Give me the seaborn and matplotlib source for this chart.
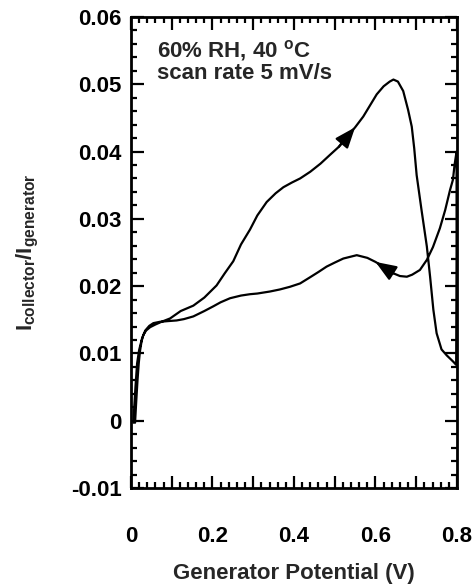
import numpy as np
import pandas as pd
import seaborn as sns
import matplotlib
matplotlib.use("Agg")
import matplotlib.pyplot as plt
from matplotlib.ticker import MultipleLocator, FixedLocator, FixedFormatter

# ---------------- data ----------------
fwd_V = [0.010, 0.013, 0.016, 0.019, 0.022, 0.026, 0.030, 0.037, 0.047, 0.060,
         0.075, 0.096, 0.122, 0.153, 0.180, 0.210, 0.230, 0.251, 0.270, 0.292,
         0.310, 0.333, 0.355, 0.374, 0.395, 0.415, 0.440, 0.465, 0.490, 0.510,
         0.530, 0.550, 0.570, 0.590, 0.603, 0.620, 0.635, 0.644, 0.655, 0.668,
         0.680, 0.689, 0.695, 0.701, 0.713, 0.726, 0.734, 0.742, 0.750, 0.762,
         0.775, 0.787, 0.792, 0.798]
fwd_R = [-0.0003, 0.0030, 0.0060, 0.0085, 0.0103, 0.0118, 0.0127, 0.0134, 0.0139, 0.0143,
         0.0147, 0.0152, 0.0163, 0.0171, 0.0183, 0.0201, 0.0219, 0.0237, 0.0262, 0.0284,
         0.0305, 0.0325, 0.0338, 0.0347, 0.0354, 0.0360, 0.0370, 0.0382, 0.0396, 0.0407,
         0.0422, 0.0436, 0.0452, 0.0472, 0.0485, 0.0497, 0.0504, 0.0507, 0.0504, 0.0490,
         0.0462, 0.0437, 0.0405, 0.0365, 0.0313, 0.0259, 0.0214, 0.0165, 0.0130, 0.0106,
         0.0097, 0.0090, 0.0087, 0.0083]

rev_V = [0.798, 0.799, 0.799, 0.794, 0.790, 0.783, 0.771, 0.758, 0.741, 0.726,
         0.709, 0.690, 0.677, 0.660, 0.644, 0.619, 0.600, 0.580, 0.554,
         0.521, 0.500, 0.480, 0.460, 0.439, 0.415, 0.390, 0.365, 0.341, 0.310,
         0.292, 0.270, 0.243, 0.220, 0.202, 0.180, 0.153, 0.130, 0.112, 0.090,
         0.071, 0.055, 0.045, 0.035, 0.027, 0.020, 0.015, 0.011, 0.008, 0.006]
rev_R = [0.0083, 0.0250, 0.0400, 0.0380, 0.0358, 0.0343, 0.0313, 0.0286, 0.0258, 0.0239,
         0.0224, 0.0217, 0.0214, 0.0215, 0.0219, 0.0229, 0.0236, 0.0242, 0.0246,
         0.0241, 0.0235, 0.0229, 0.0221, 0.0213, 0.0204, 0.0199, 0.0195, 0.0192, 0.0189,
         0.0188, 0.0186, 0.0182, 0.0176, 0.0170, 0.0163, 0.0155, 0.0151, 0.0149, 0.0148,
         0.0147, 0.0145, 0.0141, 0.0134, 0.0122, 0.0105, 0.0085, 0.0050, 0.0020, -0.0003]

x_tick_values = [0.0, 0.1, 0.2, 0.3, 0.4, 0.5, 0.6, 0.7, 0.8]
x_tick_labels = ["0", "", "0.2", "", "0.4", "", "0.6", "", "0.8"]
y_tick_values = [-0.01, 0.0, 0.01, 0.02, 0.03, 0.04, 0.05, 0.06]
y_tick_labels = ["-0.01", "0", "0.01", "0.02", "0.03", "0.04", "0.05", "0.06"]

annotation_lines = [r"60% RH, 40 $^{\mathbf{o}}$C", "scan rate 5 mV/s"]
x_label = "Generator Potential (V)"
y_label = r"$I_{collector}/I_{generator}$"

# ---------------- style ----------------
sns.set_theme(style="ticks")
plt.rcParams["font.family"] = ["Liberation Sans", "DejaVu Sans"]
plt.rcParams["font.weight"] = "bold"
plt.rcParams["mathtext.fontset"] = "custom"
plt.rcParams["mathtext.rm"] = "Liberation Sans:bold"
plt.rcParams["mathtext.it"] = "Liberation Sans:bold"
plt.rcParams["mathtext.bf"] = "Liberation Sans:bold"
plt.rcParams["axes.unicode_minus"] = False

FS = 16

df = pd.DataFrame({
    "V": fwd_V + rev_V,
    "R": fwd_R + rev_R,
})

fig = plt.figure(figsize=(4.72, 5.85), dpi=100)
ax = fig.add_axes([0.2775, 0.1658, 0.6907, 0.8052])

sns.lineplot(data=df, x="V", y="R", sort=False, estimator=None,
             color="black", linewidth=1.6, ax=ax)

# direction arrows, anchored on the data arrays
def add_arrow(xs, ys, i_tail, i_tip):
    ax.annotate("", xy=(xs[i_tip], ys[i_tip]), xytext=(xs[i_tail], ys[i_tail]),
                arrowprops=dict(arrowstyle="-|>,head_length=0.9,head_width=0.35",
                                color="black", lw=1.6, shrinkA=0, shrinkB=0,
                                mutation_scale=14))

add_arrow(fwd_V, fwd_R, fwd_V.index(0.510), fwd_V.index(0.550))
add_arrow(rev_V, rev_R, rev_V.index(0.644), rev_V.index(0.600))

ax.set_xlim(0.0, 0.8)
ax.set_ylim(-0.01, 0.06)

ax.xaxis.set_major_locator(FixedLocator(x_tick_values))
ax.xaxis.set_major_formatter(FixedFormatter(x_tick_labels))
ax.xaxis.set_minor_locator(MultipleLocator(0.02))
ax.yaxis.set_major_locator(FixedLocator(y_tick_values))
ax.yaxis.set_major_formatter(FixedFormatter(y_tick_labels))
ax.yaxis.set_minor_locator(MultipleLocator(0.002))

ax.tick_params(which="both", direction="in", top=True, right=True,
               width=1.6, colors="black")
ax.tick_params(which="major", length=9)
ax.tick_params(which="minor", length=4.5)
ax.tick_params(axis="x", which="major", pad=27, labelsize=FS)
ax.tick_params(axis="y", which="major", pad=6.5, labelsize=FS)
for lab in ax.get_xticklabels() + ax.get_yticklabels():
    lab.set_fontweight("bold")

for sp in ax.spines.values():
    sp.set_visible(True)
    sp.set_linewidth(2.0)
    sp.set_color("black")

ax.set_xlabel(x_label, fontsize=FS, fontweight="bold", labelpad=12)
ax.set_ylabel(y_label, fontsize=FS, labelpad=22)

ax.text(0.08, 0.928, annotation_lines[0], transform=ax.transAxes,
        fontsize=FS, fontweight="bold", va="center", ha="left")
ax.text(0.08, 0.88, annotation_lines[1], transform=ax.transAxes,
        fontsize=FS, fontweight="bold", va="center", ha="left")

fig.savefig("out.png", dpi=100)
